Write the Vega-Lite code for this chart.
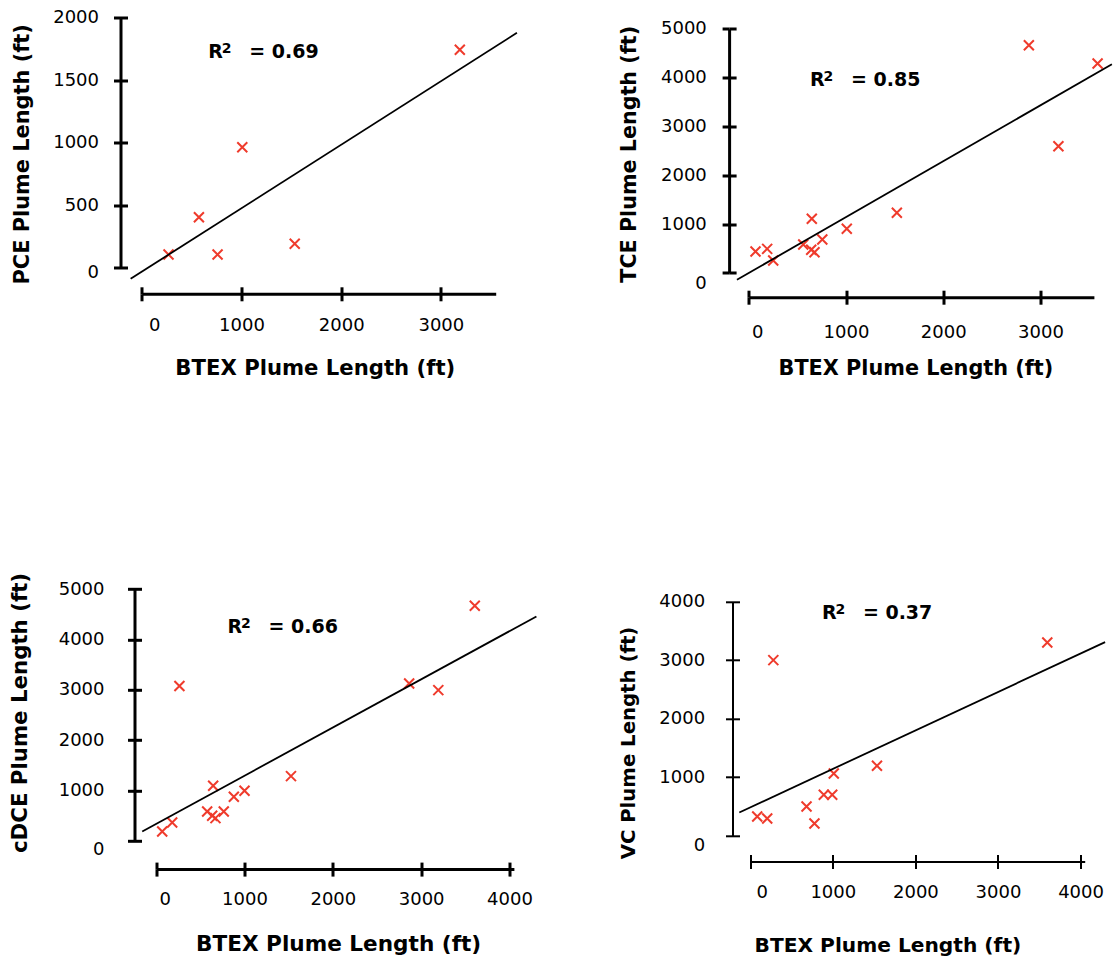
{
  "$schema": "https://vega.github.io/schema/vega-lite/v6.json",
  "padding": {"left": 9.5, "top": 8.5, "right": 0, "bottom": 0},
  "background": "white",
  "bounds": "flush",
  "columns": 2,
  "spacing": {"row": 288.3, "column": 213},
  "config": {
    "view": {"stroke": null},
    "axis": {
      "grid": false,
      "format": "d",
      "domainColor": "black",
      "domainWidth": 3,
      "tickColor": "black",
      "tickWidth": 3,
      "tickSize": 7,
      "labelFont": "DejaVu Sans",
      "labelFontSize": 18,
      "labelColor": "black",
      "labelFlush": false,
      "labelOverlap": false,
      "titleFont": "DejaVu Sans",
      "titleFontWeight": "bold",
      "titleColor": "black",
      "titleBaseline": "middle",
      "titleAlign": "center"
    },
    "text": {"font": "DejaVu Sans", "fontWeight": "bold", "align": "left", "baseline": "middle", "color": "black"}
  },
  "datasets": {
    "p1pts": [{"btex":268,"pce":106},{"btex":573,"pce":405},{"btex":760,"pce":106},{"btex":1008,"pce":965},{"btex":1534,"pce":192},{"btex":3190,"pce":1744}],
    "p1line": [{"btex":-112,"pce":-88},{"btex":3763,"pce":1880}],
    "p1r2": [{"btex":666,"pce":1725,"value":"= 0.69"}],
    "p2pts": [{"btex":69,"tce":436},{"btex":189,"tce":491},{"btex":251,"tce":252},{"btex":560,"tce":580},{"btex":642,"tce":471},{"btex":676,"tce":422},{"btex":756,"tce":682},{"btex":648,"tce":1107},{"btex":1008,"tce":901},{"btex":1523,"tce":1229},{"btex":2881,"tce":4664},{"btex":3185,"tce":2594},{"btex":3588,"tce":4289}],
    "p2line": [{"btex":-122,"tce":-143},{"btex":3735,"tce":4274}],
    "p2r2": [{"btex":630,"tce":3957,"value":"= 0.85"}],
    "p3pts": [{"btex":68,"cdce":185},{"btex":181,"cdce":364},{"btex":263,"cdce":3074},{"btex":577,"cdce":582},{"btex":634,"cdce":497},{"btex":671,"cdce":451},{"btex":765,"cdce":582},{"btex":645,"cdce":1093},{"btex":879,"cdce":874},{"btex":1000,"cdce":993},{"btex":1526,"cdce":1285},{"btex":2864,"cdce":3126},{"btex":3194,"cdce":2993},{"btex":3607,"cdce":4669}],
    "p3line": [{"btex":-158,"cdce":185},{"btex":4305,"cdce":4457}],
    "p3r2": [{"btex":807,"cdce":4248,"value":"= 0.66"}],
    "p4pts": [{"btex":85,"vc":329},{"btex":206,"vc":295},{"btex":280,"vc":2999},{"btex":682,"vc":500},{"btex":778,"vc":210},{"btex":891,"vc":700},{"btex":993,"vc":700},{"btex":1012,"vc":1063},{"btex":1535,"vc":1195},{"btex":3597,"vc":3300}],
    "p4line": [{"btex":-132,"vc":398},{"btex":4297,"vc":3307}],
    "p4r2": [{"btex":868,"vc":3807,"value":"= 0.37"}]
  },
  "concat": [
    {
      "width": 385, "height": 279.3,
      "resolve": {"axis": {"x": "independent", "y": "independent"}},
      "layer": [
        {
          "data": {"name": "p1pts"},
          "mark": {"type": "point", "shape": "M-1,-1L1,1M-1,1L1,-1", "filled": false, "stroke": "#ef3b2c", "strokeWidth": 2, "size": 100, "opacity": 1},
          "encoding": {
            "x": {"field": "btex", "type": "quantitative", "scale": {"domain": [0, 3550], "range": [7.3, 361.2], "nice": false, "zero": false},
              "axis": {"orient": "bottom", "values": [0, 1000, 2000, 3000], "title": "BTEX Plume Length (ft)", "titleFontSize": 21.2, "titleX": 180.3, "titleY": 75, "labelPadding": 15.6,
                "labelOffset": {"condition": {"test": "datum.value === 0", "value": 12.5}, "value": 0}}},
            "y": {"field": "pce", "type": "quantitative", "scale": {"domain": [0, 2000], "range": [253.3, 3.3], "nice": false, "zero": false},
              "axis": {"orient": "left", "offset": 14, "values": [0, 500, 1000, 1500, 2000], "title": "PCE Plume Length (ft)", "titleFontSize": 20.9, "titleX": -98, "titleY": 139.3, "labelPadding": 15,
                "labelOffset": {"condition": {"test": "datum.value === 0", "value": 5}, "value": 0}}}
          }
        },
        {
          "data": {"name": "p1line"},
          "mark": {"type": "line", "color": "black", "strokeWidth": 1.8},
          "encoding": {
            "x": {"field": "btex", "type": "quantitative", "axis": {"orient": "bottom", "values": [0, 1000, 2000, 3000], "domain": false, "labels": false, "tickSize": -7, "title": null}},
            "y": {"field": "pce", "type": "quantitative", "axis": {"orient": "left", "offset": 14, "values": [0, 500, 1000, 1500, 2000], "domain": false, "labels": false, "tickSize": -7, "title": null}}
          }
        },
        {
          "data": {"name": "p1r2"},
          "encoding": {
            "x": {"field": "btex", "type": "quantitative", "axis": null},
            "y": {"field": "pce", "type": "quantitative", "axis": null}
          },
          "layer": [
            {"mark": {"type": "text", "fontSize": 19}, "encoding": {"text": {"value": "R"}}},
            {"mark": {"type": "text", "fontSize": 14, "dx": 13.5, "dy": -3}, "encoding": {"text": {"value": "2"}}},
            {"mark": {"type": "text", "fontSize": 19, "dx": 41}, "encoding": {"text": {"field": "value"}}}
          ]
        }
      ]
    },
    {
      "width": 365, "height": 282.7,
      "resolve": {"axis": {"x": "independent", "y": "independent"}},
      "layer": [
        {
          "data": {"name": "p2pts"},
          "mark": {"type": "point", "shape": "M-1,-1L1,1M-1,1L1,-1", "filled": false, "stroke": "#ef3b2c", "strokeWidth": 2, "size": 100, "opacity": 1},
          "encoding": {
            "x": {"field": "btex", "type": "quantitative", "scale": {"domain": [0, 3550], "range": [16.3, 361.4], "nice": false, "zero": false},
              "axis": {"orient": "bottom", "values": [0, 1000, 2000, 3000], "title": "BTEX Plume Length (ft)", "titleFontSize": 20.8, "titleX": 182.9, "titleY": 71.6, "labelPadding": 18.9,
                "labelOffset": {"condition": {"test": "datum.value === 0", "value": 8.5}, "value": 0}}},
            "y": {"field": "tce", "type": "quantitative", "scale": {"domain": [0, 5000], "range": [258.3, 14.3], "nice": false, "zero": false},
              "axis": {"orient": "left", "offset": 3.4, "values": [0, 1000, 2000, 3000, 4000, 5000], "title": "TCE Plume Length (ft)", "titleFontSize": 20.7, "titleX": -100.1, "titleY": 139.3, "labelPadding": 15.8,
                "labelOffset": {"condition": {"test": "datum.value === 0", "value": 11}, "value": 0}}}
          }
        },
        {
          "data": {"name": "p2line"},
          "mark": {"type": "line", "color": "black", "strokeWidth": 1.8},
          "encoding": {
            "x": {"field": "btex", "type": "quantitative", "axis": {"orient": "bottom", "values": [0, 1000, 2000, 3000], "domain": false, "labels": false, "tickSize": -7, "title": null}},
            "y": {"field": "tce", "type": "quantitative", "axis": {"orient": "left", "offset": 3.4, "values": [0, 1000, 2000, 3000, 4000, 5000], "domain": false, "labels": false, "tickSize": -7, "title": null}}
          }
        },
        {
          "data": {"name": "p2r2"},
          "encoding": {
            "x": {"field": "btex", "type": "quantitative", "axis": null},
            "y": {"field": "tce", "type": "quantitative", "axis": null}
          },
          "layer": [
            {"mark": {"type": "text", "fontSize": 19}, "encoding": {"text": {"value": "R"}}},
            {"mark": {"type": "text", "fontSize": 14, "dx": 13.5, "dy": -3}, "encoding": {"text": {"value": "2"}}},
            {"mark": {"type": "text", "fontSize": 19, "dx": 41}, "encoding": {"text": {"field": "value"}}}
          ]
        }
      ]
    },
    {
      "width": 385, "height": 283.3,
      "resolve": {"axis": {"x": "independent", "y": "independent"}},
      "layer": [
        {
          "data": {"name": "p3pts"},
          "mark": {"type": "point", "shape": "M-1,-1L1,1M-1,1L1,-1", "filled": false, "stroke": "#ef3b2c", "strokeWidth": 2, "size": 100, "opacity": 1},
          "encoding": {
            "x": {"field": "btex", "type": "quantitative", "scale": {"domain": [0, 4050], "range": [21.7, 379.4], "nice": false, "zero": false},
              "axis": {"orient": "bottom", "values": [0, 1000, 2000, 3000, 4000], "title": "BTEX Plume Length (ft)", "titleFontSize": 21.6, "titleX": 203.6, "titleY": 75, "labelPadding": 14.6,
                "labelOffset": {"condition": {"test": "datum.value === 0", "value": 8.5}, "value": 0}}},
            "y": {"field": "cdce", "type": "quantitative", "scale": {"domain": [0, 5000], "range": [255, 3.3], "nice": false, "zero": false},
              "axis": {"orient": "left", "offset": 0, "values": [0, 1000, 2000, 3000, 4000, 5000], "title": "cDCE Plume Length (ft)", "titleFontSize": 21.3, "titleX": -113.8, "titleY": 126.7, "labelPadding": 23.5,
                "labelOffset": {"condition": {"test": "datum.value === 0", "value": 9}, "value": 0}}}
          }
        },
        {
          "data": {"name": "p3line"},
          "mark": {"type": "line", "color": "black", "strokeWidth": 1.8},
          "encoding": {
            "x": {"field": "btex", "type": "quantitative", "axis": {"orient": "bottom", "values": [0, 1000, 2000, 3000, 4000], "domain": false, "labels": false, "tickSize": -7, "title": null}},
            "y": {"field": "cdce", "type": "quantitative", "axis": {"orient": "left", "offset": 0, "values": [0, 1000, 2000, 3000, 4000, 5000], "domain": false, "labels": false, "tickSize": -7, "title": null}}
          }
        },
        {
          "data": {"name": "p3r2"},
          "encoding": {
            "x": {"field": "btex", "type": "quantitative", "axis": null},
            "y": {"field": "cdce", "type": "quantitative", "axis": null}
          },
          "layer": [
            {"mark": {"type": "text", "fontSize": 19}, "encoding": {"text": {"value": "R"}}},
            {"mark": {"type": "text", "fontSize": 14, "dx": 13.5, "dy": -3}, "encoding": {"text": {"value": "2"}}},
            {"mark": {"type": "text", "fontSize": 19, "dx": 41}, "encoding": {"text": {"field": "value"}}}
          ]
        }
      ]
    },
    {
      "width": 360, "height": 275.7,
      "resolve": {"axis": {"x": "independent", "y": "independent"}},
      "layer": [
        {
          "data": {"name": "p4pts"},
          "mark": {"type": "point", "shape": "M-1,-1L1,1M-1,1L1,-1", "filled": false, "stroke": "#ef3b2c", "strokeWidth": 2, "size": 100, "opacity": 1},
          "encoding": {
            "x": {"field": "btex", "type": "quantitative", "scale": {"domain": [0, 4050], "range": [17.7, 352.2], "nice": false, "zero": false},
              "axis": {"orient": "bottom", "values": [0, 1000, 2000, 3000, 4000], "domainWidth": 2, "tickWidth": 2, "title": "BTEX Plume Length (ft)", "titleFontSize": 20.2, "titleX": 154.9, "titleY": 84.3, "labelPadding": 14.9,
                "labelOffset": {"condition": {"test": "datum.value === 0", "value": 11.5}, "value": 0}}},
            "y": {"field": "vc", "type": "quantitative", "scale": {"domain": [0, 4000], "range": [250, 15.7], "nice": false, "zero": false},
              "axis": {"orient": "left", "offset": 0, "values": [0, 1000, 2000, 3000, 4000], "domainWidth": 2, "tickWidth": 2, "title": "VC Plume Length (ft)", "titleFontSize": 19.7, "titleX": -104.4, "titleY": 156.7, "labelPadding": 20.9,
                "labelOffset": {"condition": {"test": "datum.value === 0", "value": 10}, "value": 0}}}
          }
        },
        {
          "data": {"name": "p4line"},
          "mark": {"type": "line", "color": "black", "strokeWidth": 1.8},
          "encoding": {
            "x": {"field": "btex", "type": "quantitative", "axis": {"orient": "bottom", "values": [0, 1000, 2000, 3000, 4000], "domain": false, "labels": false, "tickSize": -7, "tickWidth": 2, "title": null}},
            "y": {"field": "vc", "type": "quantitative", "axis": {"orient": "left", "offset": 0, "values": [0, 1000, 2000, 3000, 4000], "domain": false, "labels": false, "tickSize": -7, "tickWidth": 2, "title": null}}
          }
        },
        {
          "data": {"name": "p4r2"},
          "encoding": {
            "x": {"field": "btex", "type": "quantitative", "axis": null},
            "y": {"field": "vc", "type": "quantitative", "axis": null}
          },
          "layer": [
            {"mark": {"type": "text", "fontSize": 19}, "encoding": {"text": {"value": "R"}}},
            {"mark": {"type": "text", "fontSize": 14, "dx": 13.5, "dy": -3}, "encoding": {"text": {"value": "2"}}},
            {"mark": {"type": "text", "fontSize": 19, "dx": 41}, "encoding": {"text": {"field": "value"}}}
          ]
        }
      ]
    }
  ]
}
